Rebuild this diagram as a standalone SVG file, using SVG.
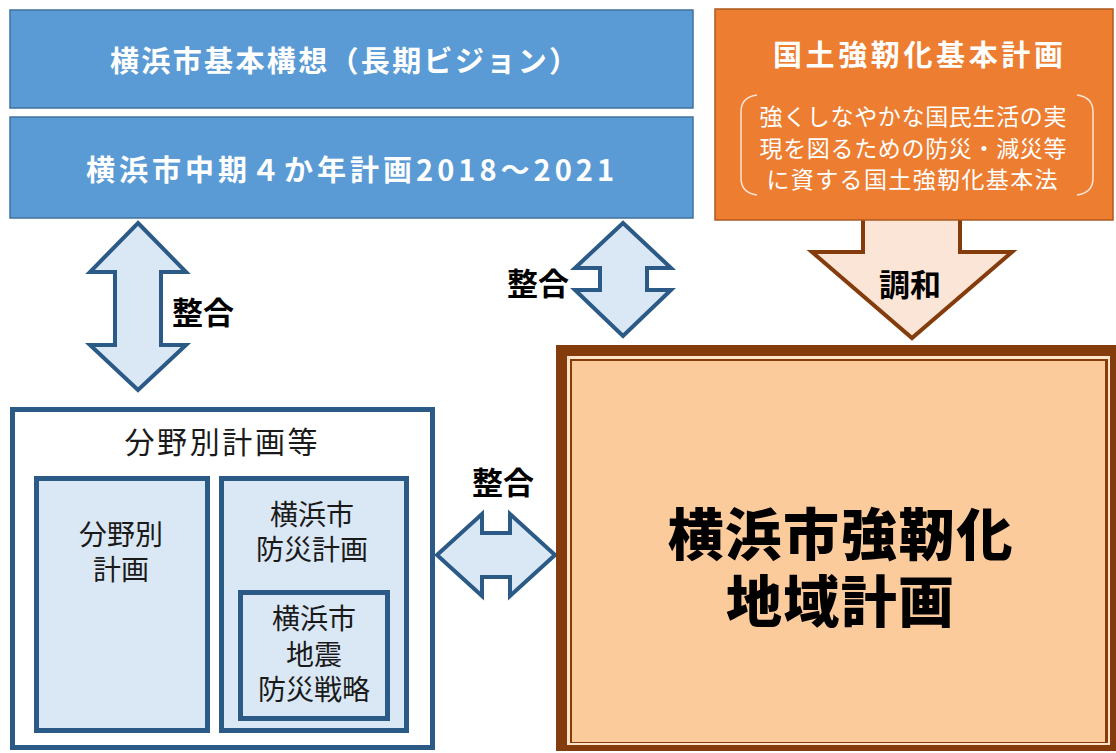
<svg xmlns="http://www.w3.org/2000/svg" width="1116" height="753" viewBox="0 0 1116 753">
<style>
text{font-family:"Noto Sans CJK JP","Noto Sans",sans-serif;text-anchor:middle;dominant-baseline:central}
.wt{fill:#ffffff;font-weight:700;font-size:29px}
.sub{fill:#ffffff;font-weight:400;font-size:23px}
.lbl{fill:#000000;font-weight:700;font-size:31px}
.blk{fill:#1a1a1a;font-weight:400}
.big{fill:#000000;font-weight:900;font-size:56px}
.bbox{fill:#5b9bd5;stroke:#41719c;stroke-width:1.5}
.lb{fill:#dae8f5;stroke:#2b5a87;stroke-width:5}
.arrB{fill:#dae8f5;stroke:#2b5a87;stroke-width:4;stroke-linejoin:miter}
.arrO{fill:#fbe5d6;stroke:#843c0c;stroke-width:4;stroke-linejoin:miter}
</style>
<rect width="1116" height="753" fill="#ffffff"/>

<g id="connectors">
  <polygon class="arrO" points="863,212 960,212 960,252 1012,252 912,338 812,252 863,252"/>
  <polygon class="arrB" points="138,223 186,272 161,272 161,345 186,345 138,390 90,345 115,345 115,272 90,272"/>
  <polygon class="arrB" points="623,223 671,268 647,268 647,290 671,290 623,336 575,290 600,290 600,268 575,268"/>
  <polygon class="arrB" points="437,555 482,514 482,533 510,533 510,514 555,555 510,596 510,577 482,577 482,596"/>
  <text class="lbl" x="910" y="282">調和</text>
  <text class="lbl" x="203" y="310">整合</text>
  <text class="lbl" x="538" y="281">整合</text>
  <text class="lbl" x="503" y="480">整合</text>
</g>

<g id="vision">
  <rect class="bbox" x="10" y="10" width="683" height="98"/>
  <text class="wt" x="344" y="59" textLength="468">横浜市基本構想（長期ビジョン）</text>
</g>

<g id="midterm">
  <rect class="bbox" x="10" y="117" width="683" height="101"/>
  <text class="wt" x="350" y="168" font-size="30" textLength="528">横浜市中期４か年計画2018～2021</text>
</g>

<g id="national">
  <rect x="715" y="9" width="398" height="211" fill="#ed7d31" stroke="#ae5a21" stroke-width="1.5"/>
  <text class="wt" x="918" y="53" textLength="290">国土強靭化基本計画</text>
  <path d="M757,95 Q741,97 741,112 L741,178 Q741,193 757,195" fill="none" stroke="#fbe5d6" stroke-width="1.5"/>
  <path d="M1077,95 Q1093,97 1093,112 L1093,178 Q1093,193 1077,195" fill="none" stroke="#fbe5d6" stroke-width="1.5"/>
  <text class="sub"><tspan x="913" y="115" textLength="307">強くしなやかな国民生活の実</tspan><tspan x="913" y="147" textLength="307">現を図るための防災・減災等</tspan><tspan x="912" y="178" textLength="291">に資する国土強靭化基本法</tspan></text>
</g>

<g id="sector-plans">
  <rect x="12.5" y="409.5" width="420" height="338" fill="#ffffff" stroke="#2b5a87" stroke-width="5"/>
  <text class="blk" x="221" y="440" font-size="30" textLength="193">分野別計画等</text>
</g>

<g id="sector">
  <rect class="lb" x="36.5" y="478.5" width="171" height="252"/>
  <text class="blk" font-size="28"><tspan x="121" y="533">分野別</tspan><tspan x="121" y="568">計画</tspan></text>
</g>

<g id="disaster-plan">
  <rect class="lb" x="221.5" y="478.5" width="185" height="252"/>
  <text class="blk" font-size="28"><tspan x="312" y="513">横浜市</tspan><tspan x="312" y="548">防災計画</tspan></text>
</g>

<g id="quake-strategy">
  <rect class="lb" x="240.5" y="592.5" width="147" height="126"/>
  <text class="blk" font-size="28"><tspan x="314" y="617">横浜市</tspan><tspan x="314" y="653">地震</tspan><tspan x="314" y="688">防災戦略</tspan></text>
</g>

<g id="resilience-plan">
  <rect x="556" y="345" width="560" height="406" fill="#843c0c"/>
  <rect x="567" y="356" width="543" height="389" fill="#fde3c8"/>
  <rect x="570" y="359" width="538" height="384" fill="#843c0c"/>
  <rect x="572" y="361" width="533" height="381" fill="#fccb9b"/>
  <text class="big"><tspan x="840" y="530" textLength="345">横浜市強靭化</tspan><tspan x="840" y="597" textLength="228">地域計画</tspan></text>
</g>
</svg>
